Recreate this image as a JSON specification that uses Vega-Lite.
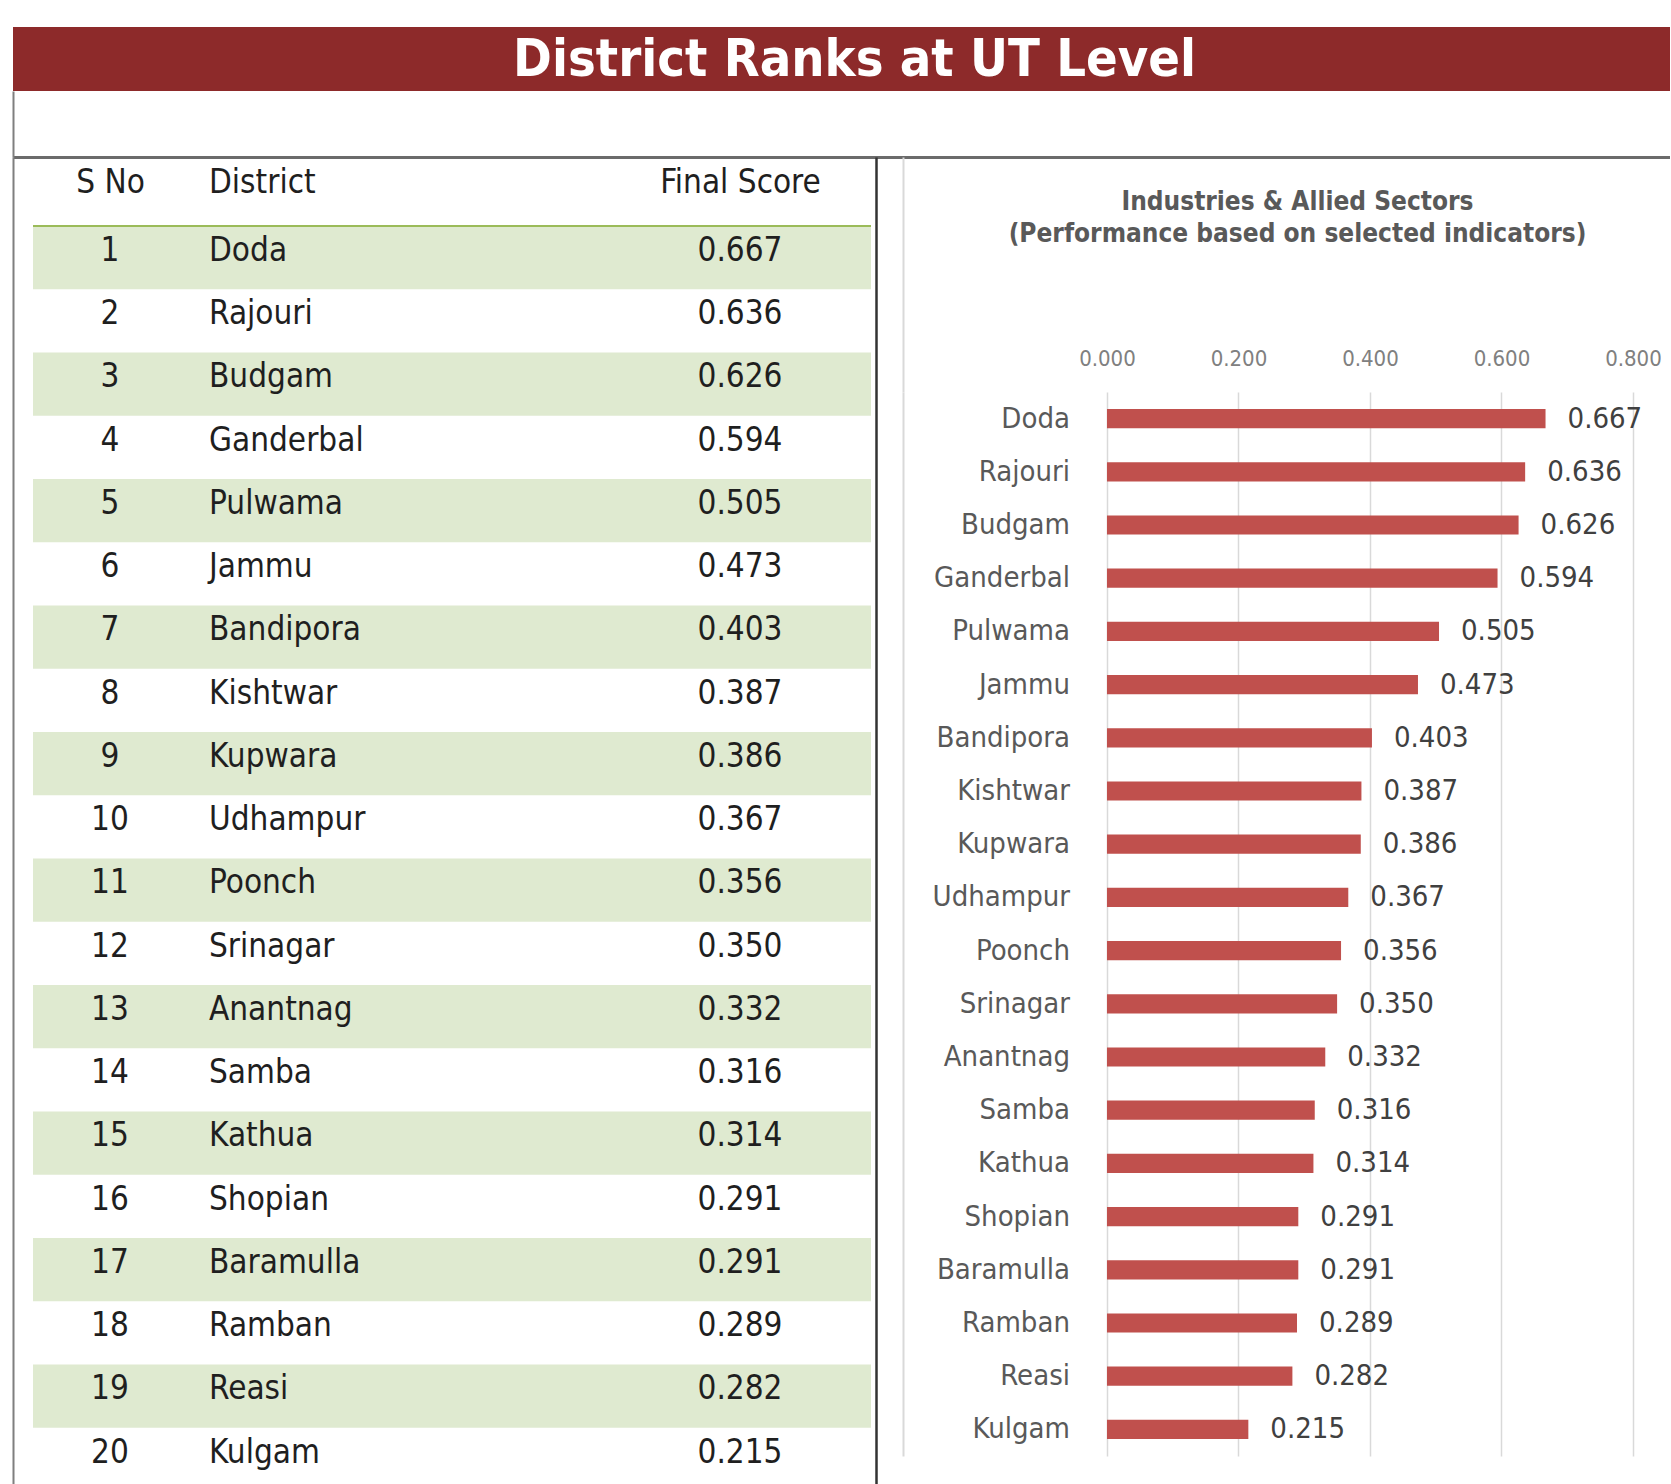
{
  "$schema": "https://vega.github.io/schema/vega-lite/v6.json",
  "padding": {"left": 13, "top": 27, "right": 0, "bottom": 0},
  "background": "white",
  "bounds": "flush",
  "spacing": 0,
  "config": {
    "view": {"stroke": null},
    "font": "DejaVu Sans Condensed",
    "concat": {"spacing": 0}
  },
  "datasets": {
    "d": [
      {"sno": 1, "District": "Doda", "score": 0.667},
      {"sno": 2, "District": "Rajouri", "score": 0.636},
      {"sno": 3, "District": "Budgam", "score": 0.626},
      {"sno": 4, "District": "Ganderbal", "score": 0.594},
      {"sno": 5, "District": "Pulwama", "score": 0.505},
      {"sno": 6, "District": "Jammu", "score": 0.473},
      {"sno": 7, "District": "Bandipora", "score": 0.403},
      {"sno": 8, "District": "Kishtwar", "score": 0.387},
      {"sno": 9, "District": "Kupwara", "score": 0.386},
      {"sno": 10, "District": "Udhampur", "score": 0.367},
      {"sno": 11, "District": "Poonch", "score": 0.356},
      {"sno": 12, "District": "Srinagar", "score": 0.350},
      {"sno": 13, "District": "Anantnag", "score": 0.332},
      {"sno": 14, "District": "Samba", "score": 0.316},
      {"sno": 15, "District": "Kathua", "score": 0.314},
      {"sno": 16, "District": "Shopian", "score": 0.291},
      {"sno": 17, "District": "Baramulla", "score": 0.291},
      {"sno": 18, "District": "Ramban", "score": 0.289},
      {"sno": 19, "District": "Reasi", "score": 0.282},
      {"sno": 20, "District": "Kulgam", "score": 0.215}
    ]
  },
  "vconcat": [
    {
      "width": 1657, "height": 64,
      "view": {"fill": "#8d2a2a", "stroke": null},
      "data": {"values": [{}]},
      "mark": {"type": "text", "fontSize": 52, "fontWeight": "bold", "color": "white", "dx": 13, "dy": 1},
      "encoding": {"text": {"value": "District Ranks at UT Level"}}
    },
    {
      "width": 1657, "height": 66,
      "data": {"values": [{}]},
      "mark": {"type": "text"},
      "encoding": {
        "text": {"value": ""},
        "x": {"datum": "a", "type": "nominal", "axis": {"orient": "bottom", "domain": true, "domainColor": "#6b6b6b", "domainWidth": 3, "labels": false, "ticks": false, "grid": false, "title": null}},
        "y": {"datum": "a", "type": "nominal", "axis": {"orient": "left", "domain": true, "domainColor": "#7f7f7f", "domainWidth": 2, "labels": false, "ticks": false, "grid": false, "title": null}}
      }
    },
    {
      "bounds": "flush",
      "spacing": 0,
      "hconcat": [
        {
          "width": 20, "height": 1334,
          "data": {"values": [{}]},
          "mark": {"type": "text"},
          "encoding": {
            "text": {"value": ""},
            "y": {"datum": "a", "type": "nominal", "axis": {"orient": "left", "domain": true, "domainColor": "#7f7f7f", "domainWidth": 2, "labels": false, "ticks": false, "grid": false, "title": null}}
          }
        },
        {
          "width": 154, "height": 1334,
          "data": {"name": "d"},
          "layer": [
            {
              "transform": [{"filter": "datum.sno % 2 == 1"}],
              "mark": {"type": "rect", "color": "#dfead0"},
              "encoding": {"y": {"field": "sno", "type": "ordinal", "scale": {"domain": [1,2,3,4,5,6,7,8,9,10,11,12,13,14,15,16,17,18,19,20], "paddingInner": 0, "paddingOuter": 0.5454, "align": 1}, "axis": null}}
            },
            {
              "transform": [{"filter": "datum.sno == 1"}],
              "mark": {"type": "rule", "color": "#9bbb59", "strokeWidth": 2},
              "encoding": {"y": {"field": "sno", "type": "ordinal", "bandPosition": 0, "axis": null}}
            },
            {
              "mark": {"type": "text", "fontSize": 33, "color": "#1f1f1f"},
              "encoding": {
                "y": {"field": "sno", "type": "ordinal", "bandPosition": 0.395, "axis": null},
                "x": {"datum": "S No", "type": "nominal", "axis": {"orient": "top", "offset": -69, "domain": false, "ticks": false, "grid": false, "title": null, "labelPadding": 44, "labelBaseline": "middle", "labelAngle": 0, "labelFontSize": 33, "labelColor": "#1f1f1f", "labelAlign": "center"}},
                "text": {"field": "sno", "type": "ordinal"}
              }
            }
          ]
        },
        {
          "width": 422, "height": 1334,
          "data": {"name": "d"},
          "layer": [
            {
              "transform": [{"filter": "datum.sno % 2 == 1"}],
              "mark": {"type": "rect", "color": "#dfead0"},
              "encoding": {"y": {"field": "sno", "type": "ordinal", "scale": {"domain": [1,2,3,4,5,6,7,8,9,10,11,12,13,14,15,16,17,18,19,20], "paddingInner": 0, "paddingOuter": 0.5454, "align": 1}, "axis": null}}
            },
            {
              "transform": [{"filter": "datum.sno == 1"}],
              "mark": {"type": "rule", "color": "#9bbb59", "strokeWidth": 2},
              "encoding": {"y": {"field": "sno", "type": "ordinal", "bandPosition": 0, "axis": null}}
            },
            {
              "mark": {"type": "text", "fontSize": 33, "color": "#1f1f1f", "align": "left"},
              "encoding": {
                "y": {"field": "sno", "type": "ordinal", "bandPosition": 0.395, "axis": null},
                "x": {"datum": "District", "type": "nominal", "bandPosition": 0,
                      "scale": {"type": "band", "paddingInner": 0, "paddingOuter": 0.0275, "align": 1},
                      "axis": {"orient": "top", "offset": -69, "domain": false, "ticks": false, "grid": false, "title": null, "labelPadding": 44, "labelOffset": -200, "labelBaseline": "middle", "labelAngle": 0, "labelFontSize": 33, "labelColor": "#1f1f1f", "labelAlign": "left"}},
                "text": {"field": "District", "type": "nominal"}
              }
            }
          ]
        },
        {
          "width": 262, "height": 1334,
          "data": {"name": "d"},
          "layer": [
            {
              "transform": [{"filter": "datum.sno % 2 == 1"}],
              "mark": {"type": "rect", "color": "#dfead0"},
              "encoding": {"y": {"field": "sno", "type": "ordinal", "scale": {"domain": [1,2,3,4,5,6,7,8,9,10,11,12,13,14,15,16,17,18,19,20], "paddingInner": 0, "paddingOuter": 0.5454, "align": 1}, "axis": {"orient": "right", "offset": 5, "domain": true, "domainColor": "#333333", "domainWidth": 2.5, "labels": false, "ticks": false, "grid": false, "title": null}}}
            },
            {
              "transform": [{"filter": "datum.sno == 1"}],
              "mark": {"type": "rule", "color": "#9bbb59", "strokeWidth": 2},
              "encoding": {"y": {"field": "sno", "type": "ordinal", "bandPosition": 0, "axis": {"orient": "right", "offset": 5, "domain": true, "domainColor": "#333333", "domainWidth": 2.5, "labels": false, "ticks": false, "grid": false, "title": null}}}
            },
            {
              "mark": {"type": "text", "fontSize": 33, "color": "#1f1f1f"},
              "encoding": {
                "y": {"field": "sno", "type": "ordinal", "bandPosition": 0.395, "axis": {"orient": "right", "offset": 5, "domain": true, "domainColor": "#333333", "domainWidth": 2.5, "labels": false, "ticks": false, "grid": false, "title": null}},
                "x": {"datum": "Final Score", "type": "nominal", "axis": {"orient": "top", "offset": -69, "domain": false, "ticks": false, "grid": false, "title": null, "labelPadding": 44, "labelBaseline": "middle", "labelAngle": 0, "labelFontSize": 33, "labelColor": "#1f1f1f", "labelAlign": "center"}},
                "text": {"field": "score", "type": "quantitative", "format": ".3f"}
              }
            }
          ]
        },
        {
          "bounds": "flush",
          "spacing": 0,
          "vconcat": [
            {
              "width": 799, "height": 235,
              "data": {"values": [{}]},
              "mark": {"type": "text", "fontSize": 26, "fontWeight": "bold", "color": "#595959", "lineHeight": 32, "dx": 27},
              "encoding": {
                "text": {"value": ["Industries & Allied  Sectors", "(Performance based on selected indicators)"]},
                "y": {"datum": "t", "type": "nominal", "bandPosition": 0.19,
                      "scale": {"type": "band", "paddingInner": 0, "paddingOuter": 0},
                      "axis": {"orient": "left", "offset": -32, "domain": true, "domainColor": "#d9d9d9", "domainWidth": 2, "labels": false, "ticks": false, "grid": false, "title": null}}
              }
            },
            {
              "width": 799, "height": 1064,
              "data": {"name": "d"},
              "encoding": {
                "y": {"field": "District", "type": "nominal", "sort": null, "scale": {"paddingInner": 0.64, "paddingOuter": 0.32},
                      "axis": {"orient": "left", "offset": -32, "domain": true, "domainColor": "#d9d9d9", "domainWidth": 2, "labels": false, "ticks": false, "grid": false, "title": null}},
                "x": {"field": "score", "type": "quantitative", "scale": {"domain": [-0.3589, 0.8563], "nice": false, "zero": false},
                      "axis": {"orient": "top", "values": [0, 0.2, 0.4, 0.6, 0.8], "format": ".3f", "grid": true, "gridColor": "#d9d9d9", "gridWidth": 1.5, "domain": false, "ticks": false, "labelPadding": 34, "labelBaseline": "middle", "labelFontSize": 22, "labelColor": "#808080", "title": null, "labelFlush": false}}
              },
              "layer": [
                {
                  "mark": {"type": "bar", "color": "#c0504d"},
                  "encoding": {"x2": {"datum": 0}}
                },
                {
                  "mark": {"type": "text", "align": "left", "dx": 22, "fontSize": 29, "color": "#404040"},
                  "encoding": {"text": {"field": "score", "type": "quantitative", "format": ".3f"}}
                },
                {
                  "mark": {"type": "text", "align": "right", "dx": -37, "fontSize": 29, "color": "#595959"},
                  "encoding": {
                    "x": {"datum": 0, "type": "quantitative"},
                    "text": {"field": "District", "type": "nominal"}
                  }
                }
              ]
            }
          ]
        }
      ]
    }
  ]
}
